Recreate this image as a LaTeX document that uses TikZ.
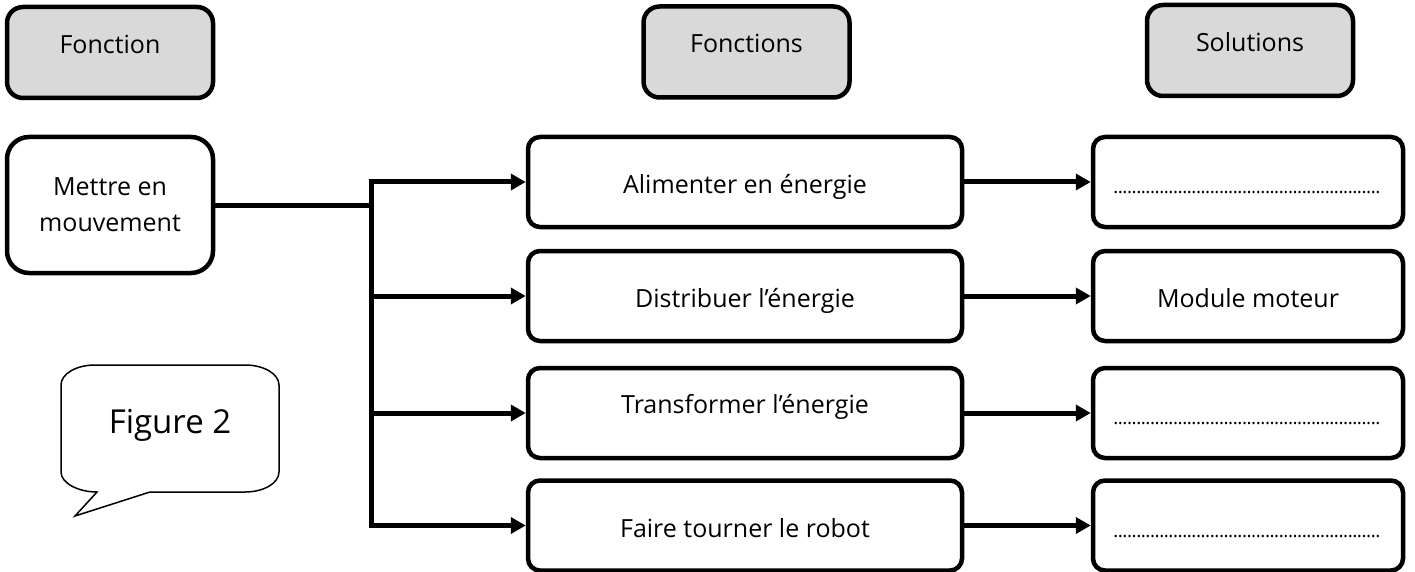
\documentclass[tikz,border=0pt]{standalone}
\usepackage{fontspec}
\setmainfont{Open Sans}
\usetikzlibrary{arrows.meta}
\definecolor{headgray}{HTML}{D9D9D9}
\newcommand\dotline{\makebox[269pt]{\fontsize{19}{19}\selectfont\leaders\hbox to 4.6pt{\hss.\hss}\hfill}}
\tikzset{
  box/.style={draw, line width=4.5pt, rounded corners=12pt, fill=white, inner sep=0pt,
    minimum height=90pt, font=\fontsize{25}{36}\selectfont, align=center},
  headbox/.style={box, fill=headgray, minimum width=206pt, minimum height=91pt,
    rounded corners=16pt, text height=14pt, text depth=12pt},
  funcbox/.style={box, minimum width=434pt, text height=23pt, text depth=0pt},
  solbox/.style={box, minimum width=310pt, text height=23pt, text depth=0pt},
  arr/.style={line width=5pt, -{Triangle[length=15pt,width=16pt]}},
  link/.style={line width=5pt},
  bubble/.style={draw, line width=1.5pt, fill=white, line join=miter},
}
\begin{document}
\begin{tikzpicture}[x=1pt,y=-1pt]
\useasboundingbox (0,0) rectangle (1415,572);
\fill[white] (0,0) rectangle (1415,572);
% headers
\node[headbox] (h1) at (110,52.5) {Fonction};
\node[headbox] (h2) at (746.5,52) {Fonctions};
\node[headbox] (h3) at (1250,50.5) {Solutions};
% main function
\node[box, minimum width=206pt, minimum height=136pt, rounded corners=22pt] (mm) at (110,205) {Mettre en\\mouvement};
% functions
\node[funcbox] (f1) at (745,182) {Alimenter en énergie};
\node[funcbox] (f2) at (745,296) {Distribuer l’énergie};
\node[funcbox, text height=12pt, text depth=12pt] (f3) at (745,413) {Transformer l’énergie};
\node[funcbox] (f4) at (745,525.5) {Faire tourner le robot};
% solutions
\node[solbox] (s1) at (1248,182) {\dotline};
\node[solbox] (s2) at (1248,296) {Module moteur};
\node[solbox] (s3) at (1248,413) {\dotline};
\node[solbox] (s4) at (1248,525.5) {\dotline};
% connectors
\coordinate (j) at (371,205);
\draw[link] (mm.east) -- (j);
\draw[link, {Triangle[length=15pt,width=16pt]}-{Triangle[length=15pt,width=16pt]}]
  (f1.west) -- (f1.west -| j) -- (f4.west -| j) -- (f4.west);
\draw[arr] (f2.west -| j) -- (f2.west);
\draw[arr] (f3.west -| j) -- (f3.west);
\draw[arr] (f1.east) -- (s1.west);
\draw[arr] (f2.east) -- (s2.west);
\draw[arr] (f3.east) -- (s3.west);
\draw[arr] (f4.east) -- (s4.west);
% speech bubble
\draw[bubble] (95,365) -- (245,365)
  .. controls (264,365) and (279,374) .. (279,385)
  -- (279,472)
  .. controls (279,483) and (264,492) .. (245,492)
  -- (150,492) -- (75,516) -- (97,492)
  .. controls (78,492) and (61,483) .. (61,472)
  -- (61,385)
  .. controls (61,374) and (76,365) .. (95,365) -- cycle;
\node[font=\fontsize{33}{40}\selectfont, text height=25pt, text depth=16pt, inner sep=0pt] (fig) at (170,428.5) {Figure 2};
\end{tikzpicture}
\end{document}
